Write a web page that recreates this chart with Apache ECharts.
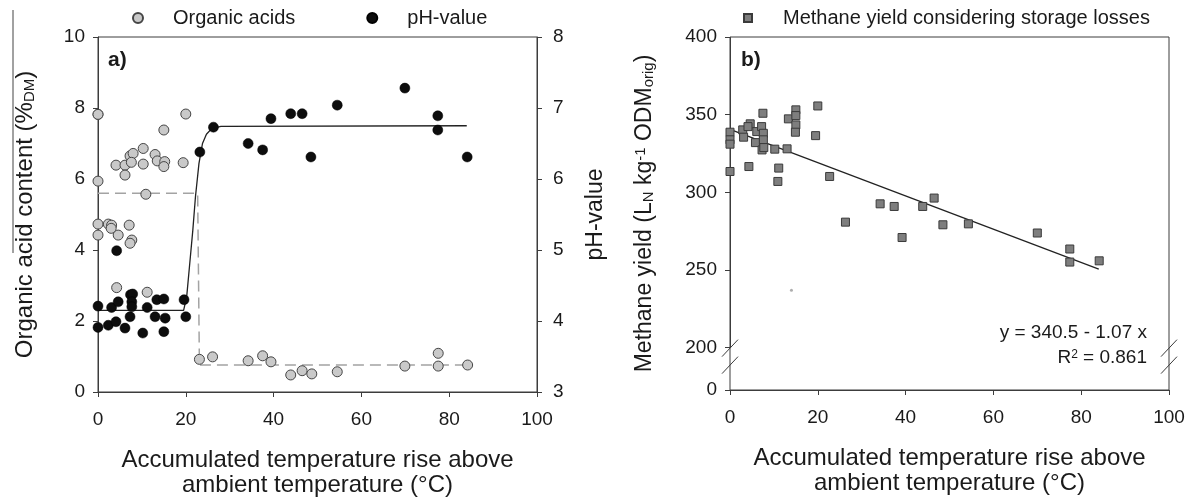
<!DOCTYPE html>
<html>
<head>
<meta charset="utf-8">
<title>Organic acids, pH and methane yield</title>
<script src="https://cdn.jsdelivr.net/npm/echarts@6.0.0/dist/echarts.min.js"></script>
<style>
  html, body { margin: 0; padding: 0; background: #fff; }
  #chart { width: 1189px; height: 498px; }
</style>
</head>
<body>
<div id="chart"></div>
<script>
// panel a) organic acids (left axis, %DM)
const acidX = [0, 0, 0, 0, 2.35, 3.1, 3.0, 4.6, 7.1, 7.7, 7.3,
  4.1, 6.15, 6.15, 7.3, 8.0, 7.6, 10.3, 10.3, 13.0, 13.5, 15.2, 15.0, 15.0, 19.4, 20.0, 0, 10.9,
  4.25, 11.2,
  23.1, 26.1, 34.2, 37.5, 39.4, 43.9, 46.5, 48.7, 54.5, 69.9, 77.5, 77.5, 84.2];
const acidY = [7.82, 5.94, 4.73, 4.42, 4.73, 4.70, 4.61, 4.42, 4.70, 4.28, 4.19,
  6.39, 6.39, 6.11, 6.65, 6.72, 6.47, 6.86, 6.42, 6.69, 6.51, 6.49, 6.35, 7.38, 6.46, 7.83, 7.82, 5.57,
  2.94, 2.81,
  0.92, 0.99, 0.88, 1.02, 0.85, 0.48, 0.60, 0.51, 0.57, 0.73, 1.09, 0.73, 0.76];

// panel a) pH-value (right axis)
const phX = [0, 0, 2.35, 3.1, 4.6, 4.1, 4.25, 6.15, 7.3, 7.4, 7.9, 7.7, 7.7,
  10.2, 11.2, 13.4, 15.0, 13.0, 15.3, 15.0, 19.6, 20.0,
  23.2, 26.3, 34.2, 37.5, 39.4, 43.9, 46.5, 48.5, 54.5, 69.9, 77.4, 77.4, 84.1];
const phY = [4.21, 3.91, 3.94, 4.19, 4.27, 3.99, 4.99, 3.90, 4.06, 4.37, 4.38, 4.27, 4.20,
  3.83, 4.19, 4.30, 4.31, 4.06, 4.04, 3.85, 4.30, 4.06,
  6.38, 6.73, 6.50, 6.41, 6.85, 6.92, 6.92, 6.31, 7.04, 7.28, 6.89, 6.69, 6.31];

// fitted curves in panel a)
const acidFitX = [0, 22.7, 23.1, 84];
const acidFitY = [5.6, 5.6, 0.76, 0.76];
const phFitX = [0, 19.5, 20.2, 20.9, 21.6, 22.2, 23.0, 23.8, 24.7, 25.9, 28, 84];
const phFitY = [4.15, 4.15, 4.34, 4.81, 5.28, 5.75, 6.22, 6.5, 6.63, 6.71, 6.74, 6.75];

// panel b) methane yield considering storage losses
const methX = [0, 0, 0, 0, 2.9, 3.1, 4.3, 4.6, 4.1, 6.1, 5.8, 7.2, 7.5, 7.6, 7.6, 7.3, 7.7,
  10.2, 11.1, 10.9, 13.0, 13.3, 15.0, 15.0, 15.0, 14.9, 20.0, 19.5, 22.7,
  26.3, 34.2, 37.4, 39.2, 43.9, 46.5, 48.5, 54.3, 70.0, 77.4, 77.4, 84.1];
const methY = [338.7, 333.8, 331.0, 313.4, 340.2, 335.5, 316.6, 344.1, 342.3, 339.1, 332.0, 342.3, 350.9, 338.0, 333.8, 327.3, 328.8,
  327.8, 315.6, 307.0, 328.0, 347.3, 353.1, 349.4, 343.4, 338.7, 355.6, 336.5, 310.2,
  280.8, 292.6, 290.9, 270.9, 290.9, 296.3, 279.1, 279.7, 273.8, 263.5, 255.1, 255.9];
const strayX = [14];
const strayY = [237];
const regX = [0, 84];
const regY = [340.5, 250.6];

const xTicks = [0, 20, 40, 60, 80, 100];

const pairs = (xs, ys) => xs.map((x, i) => [x, ys[i]]);

const FONT = 'Liberation Sans, Arial, sans-serif';
const INK = '#1a1a1a';
const AX = '#3c3c3c';

function xAxisOf(grid) {
  return {
    type: 'value', gridIndex: grid, min: xTicks[0], max: xTicks[xTicks.length - 1], interval: 20,
    name: 'Accumulated temperature rise above\nambient temperature (°C)',
    nameLocation: 'middle', nameGap: 56,
    nameTextStyle: { fontFamily: FONT, fontSize: 24, color: INK, lineHeight: 25 },
    axisLine: { show: true, lineStyle: { color: AX, width: 1 } },
    axisTick: { show: true, inside: false, length: 5, lineStyle: { color: AX } },
    axisLabel: { fontFamily: FONT, fontSize: 19, color: INK, margin: 18 },
    splitLine: { show: false }
  };
}

const yBase = {
  type: 'value',
  nameLocation: 'middle',
  axisLine: { show: true, lineStyle: { color: AX, width: 1 } },
  axisTick: { show: true, inside: false, length: 5, lineStyle: { color: AX } },
  axisLabel: { fontFamily: FONT, fontSize: 19, color: INK, margin: 13 },
  splitLine: { show: false }
};

const chart = echarts.init(document.getElementById('chart'), null, { renderer: 'canvas' });

const option = {
  backgroundColor: '#fff',
  animation: false,
  textStyle: { fontFamily: FONT },
  grid: [
    { left: 98, right: 652, top: 37, bottom: 106, outerBoundsMode: 'none', containLabel: false,
      show: true, borderColor: AX, borderWidth: 1, backgroundColor: 'transparent' },
    { left: 730, right: 20, top: 37, bottom: 108, outerBoundsMode: 'none', containLabel: false,
      show: true, borderColor: AX, borderWidth: 1, backgroundColor: 'transparent' }
  ],
  legend: [
    {
      data: ['Organic acids', 'pH-value'], left: 132, top: 8, padding: 0,
      itemWidth: 10, itemHeight: 10, itemGap: 71,
      textStyle: { fontFamily: FONT, fontSize: 20, color: INK, padding: [0, 0, 0, 25] }
    },
    {
      data: ['Methane yield considering storage losses'], left: 743, top: 8, padding: 0,
      itemWidth: 8, itemHeight: 8,
      textStyle: { fontFamily: FONT, fontSize: 20, color: INK, padding: [0, 0, 0, 26] }
    }
  ],
  xAxis: [xAxisOf(0), xAxisOf(1)],
  yAxis: [
    Object.assign({}, yBase, {
      gridIndex: 0, position: 'left', min: 0, max: 10, interval: 2,
      name: 'Organic acid content (%{sub|DM})', nameGap: 61,
      nameTextStyle: { fontFamily: FONT, fontSize: 24, color: INK,
        rich: { sub: { fontFamily: FONT, fontSize: 15, color: INK, verticalAlign: 'bottom' } } }
    }),
    Object.assign({}, yBase, {
      gridIndex: 0, position: 'right', min: 3, max: 8, interval: 1,
      name: 'pH-value', nameGap: 47,
      axisLabel: { fontFamily: FONT, fontSize: 19, color: INK, margin: 16 },
      nameTextStyle: { fontFamily: FONT, fontSize: 23, color: INK }
    }),
    Object.assign({}, yBase, {
      gridIndex: 1, position: 'left', min: 0, max: 400, interval: 50,
      breaks: [{ start: 0, end: 200, gap: '12%' }],
      breakArea: { show: false },
      name: 'Methane yield (L{sub|N} kg{sup|-1} ODM{sub|orig})', nameGap: 74,
      nameTextStyle: { fontFamily: FONT, fontSize: 23, color: INK,
        rich: {
          sub: { fontFamily: FONT, fontSize: 15, color: INK, verticalAlign: 'bottom' },
          sup: { fontFamily: FONT, fontSize: 15, color: INK, verticalAlign: 'top' }
        } }
    })
  ],
  series: [
    {
      name: 'Organic acids fit', type: 'line', xAxisIndex: 0, yAxisIndex: 0, z: 1,
      data: pairs(acidFitX, acidFitY), symbol: 'none', silent: true,
      lineStyle: { color: '#a3a3a3', width: 1.5, type: [11, 6] }
    },
    {
      name: 'pH-value fit', type: 'line', xAxisIndex: 0, yAxisIndex: 1, z: 1,
      data: pairs(phFitX, phFitY), symbol: 'none', silent: true,
      lineStyle: { color: '#222', width: 1.3 }
    },
    {
      name: 'Organic acids', type: 'scatter', xAxisIndex: 0, yAxisIndex: 0, z: 3,
      data: pairs(acidX, acidY), symbol: 'circle', symbolSize: 10,
      itemStyle: { color: '#c9c9c9', borderColor: '#454545', borderWidth: 1, opacity: 1 }
    },
    {
      name: 'pH-value', type: 'scatter', xAxisIndex: 0, yAxisIndex: 1, z: 4,
      data: pairs(phX, phY), symbol: 'circle', symbolSize: 10,
      itemStyle: { color: '#0d0d0d', borderColor: '#000', borderWidth: 0.5, opacity: 1 }
    },
    {
      name: 'Regression', type: 'line', xAxisIndex: 1, yAxisIndex: 2, z: 2,
      data: pairs(regX, regY), symbol: 'none', silent: true,
      lineStyle: { color: '#222', width: 1.3 }
    },
    {
      name: 'Methane yield considering storage losses', type: 'scatter', xAxisIndex: 1, yAxisIndex: 2, z: 3,
      data: pairs(methX, methY), symbol: 'rect', symbolSize: 8,
      itemStyle: { color: '#7e7e7e', borderColor: '#3a3a3a', borderWidth: 1, opacity: 1 }
    },
    {
      name: 'stray', type: 'scatter', xAxisIndex: 1, yAxisIndex: 2, z: 3,
      data: pairs(strayX, strayY), symbol: 'circle', symbolSize: 3, silent: true,
      itemStyle: { color: '#9a9a9a' }
    }
  ]
};

chart.setOption(option);

// panel letters, regression text and axis-break marks
const xb0 = chart.convertToPixel({ xAxisIndex: 1 }, 0);
const xb1 = chart.convertToPixel({ xAxisIndex: 1 }, 100);
const y200 = chart.convertToPixel({ yAxisIndex: 2 }, 200);
const midY = y200 + 9;

function slashPair(cx) {
  return [-8.5, 8.5].map(off => ({
    type: 'line', z: 50,
    shape: { x1: cx - 8, y1: midY + off + 8.5, x2: cx + 8, y2: midY + off - 8.5 },
    style: { stroke: AX, lineWidth: 1 }
  }));
}

chart.setOption({
  graphic: [
    { type: 'text', left: 108, top: 50, style: { text: 'a)', font: 'bold 21px ' + FONT, fill: INK } },
    { type: 'text', left: 741, top: 50, style: { text: 'b)', font: 'bold 21px ' + FONT, fill: INK } },
    { type: 'text', x: 1147, y: 333, style: { text: 'y = 340.5 - 1.07 x', font: '19px ' + FONT, fill: INK, align: 'right', verticalAlign: 'middle' } },
    { type: 'text', x: 1147, y: 358, style: {
        text: 'R{sup|2} = 0.861', font: '19px ' + FONT, fill: INK, align: 'right', verticalAlign: 'middle',
        rich: { sup: { fontSize: 12, fontFamily: FONT, fill: INK, verticalAlign: 'top' } } } },
    // thin rule left of the panel a) axis title, as in the source figure
    { type: 'line', shape: { x1: 13, y1: 10, x2: 13, y2: 253 }, style: { stroke: '#444', lineWidth: 1 } }
  ].concat(slashPair(xb0), slashPair(xb1))
});
</script>
</body>
</html>
